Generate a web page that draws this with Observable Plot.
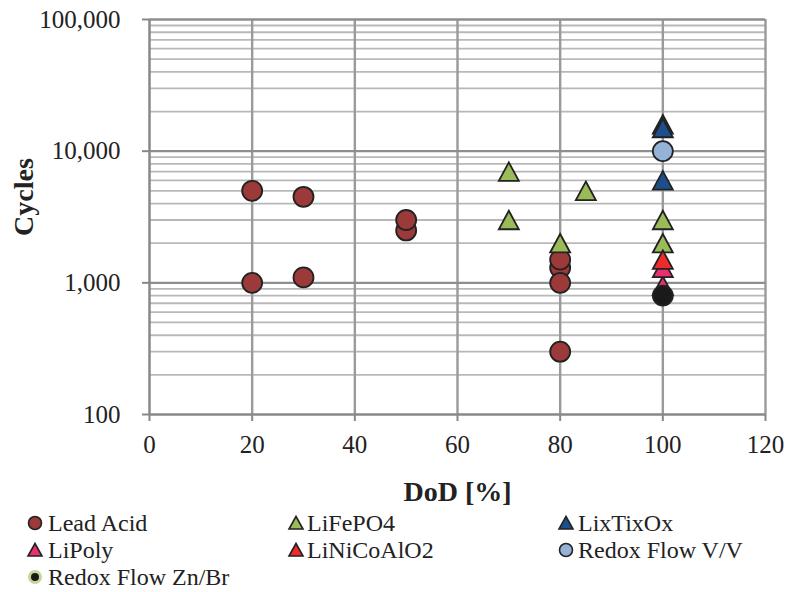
<!DOCTYPE html>
<html><head><meta charset="utf-8">
<script src="https://cdn.jsdelivr.net/npm/d3@7"></script>
<script src="https://cdn.jsdelivr.net/npm/@observablehq/plot@0.6"></script>
<style>
body{margin:0;background:#fff;}
#chart svg{display:block;}
</style>
</head><body><div id="chart"></div>
<script>
// ---- data ----
const seriesNames = ["Lead Acid","LiFePO4","LixTixOx","LiPoly","LiNiCoAlO2","Redox Flow V/V","Redox Flow Zn/Br"];
const leadAcidDoD    = [20, 20, 30, 30, 50, 50, 80, 80, 80, 80];
const leadAcidCycles = [5000, 1000, 4500, 1100, 2500, 3000, 1300, 1500, 1000, 300];
const liFePO4DoD     = [70, 70, 85, 80, 100, 100];
const liFePO4Cycles  = [7000, 3000, 5000, 2000, 3000, 2000];
const lixTixOxDoD    = [100, 100, 100];
const lixTixOxCycles = [16000, 15000, 6000];
const liPolyDoD      = [100, 100];
const liPolyCycles   = [950, 1300];
const liNiCoAlO2DoD    = [100];
const liNiCoAlO2Cycles = [1500];
const redoxVVDoD     = [100];
const redoxVVCycles  = [10000];
const redoxZnBrDoD   = [100];
const redoxZnBrCycles= [800];
const dodTicks   = [0, 20, 40, 60, 80, 100, 120];
const cycleTicks = [100, 1000, 10000, 100000];
const xLabel = "DoD [%]";
const yLabel = "Cycles";

// ---- styles ----
const seriesFill = ["#9c3a3a","#9bbb59","#1c4f8c","#e8306e","#f02a2a","#95b3d7","#1a1a1a"];
const seriesShape = ["circle","triangle","triangle","triangle","triangle","circle","circle"];

const seriesDoD = [leadAcidDoD, liFePO4DoD, lixTixOxDoD, liPolyDoD, liNiCoAlO2DoD, redoxVVDoD, redoxZnBrDoD];
const seriesCycles = [leadAcidCycles, liFePO4Cycles, lixTixOxCycles, liPolyCycles, liNiCoAlO2Cycles, redoxVVCycles, redoxZnBrCycles];

const triangleSymbol = {
  draw(context, size) {
    const r = Math.sqrt(size / Math.PI);
    const h = r * 1.85 / 2;
    context.moveTo(0, -h);
    context.lineTo(r, h);
    context.lineTo(-r, h);
    context.closePath();
  }
};

const minorTicks = [];
for (const d of cycleTicks.slice(0, -1)) for (let k = 2; k <= 9; k++) minorTicks.push(d * k);

const dotMarks = seriesNames.map((name, i) => {
  const rows = seriesDoD[i].map((x, j) => ({series: name, dod: x, cycles: seriesCycles[i][j]}));
  return Plot.dot(rows, {
    x: "dod", y: "cycles",
    r: 10,
    symbol: seriesShape[i] === "circle" ? "circle" : triangleSymbol,
    fill: seriesFill[i],
    stroke: "#222",
    strokeWidth: 1.8
  });
});

const fontFamily = "'Liberation Serif', 'Times New Roman', serif";

const chart = Plot.plot({
  width: 787,
  height: 510,
  marginLeft: 149,
  marginRight: 22,
  marginTop: 19,
  marginBottom: 96,
  style: {fontFamily, color: "#222", background: "#fff", overflow: "visible"},
  x: {domain: [0, 120]},
  y: {type: "log", domain: [100, 100000]},
  marks: [
    Plot.ruleY(minorTicks, {stroke: "#b8b8b8", strokeWidth: 1.8}),
    Plot.ruleX(dodTicks.slice(1), {stroke: "#9a9a9a", strokeWidth: 2.4}),
    Plot.ruleY(cycleTicks.slice(1), {stroke: "#8e8e8e", strokeWidth: 2.4}),
    Plot.ruleX([0], {stroke: "#888", strokeWidth: 2.5}),
    Plot.ruleY([100], {stroke: "#888", strokeWidth: 2.5}),
    Plot.axisX({ticks: dodTicks, tickSize: 7, tickPadding: 14, fontSize: 25, stroke: "#888", strokeWidth: 2, label: null}),
    Plot.axisY({ticks: cycleTicks, tickFormat: d3.format(","), tickSize: 7, tickPadding: 22, fontSize: 25, stroke: "#888", strokeWidth: 2, label: null}),
    ...dotMarks,
    Plot.text([xLabel], {frameAnchor: "bottom", dy: 78, textAnchor: "middle", lineAnchor: "middle", fontSize: 28, fontWeight: "bold", fill: "#222"}),
    Plot.text([yLabel], {frameAnchor: "left", dx: -125, dy: -20, rotate: -90, textAnchor: "middle", lineAnchor: "middle", fontSize: 28, fontWeight: "bold", fill: "#222"})
  ]
});
document.getElementById("chart").appendChild(chart);

// ---- legend ----
const legendCols = [35, 296, 566];
const legendTextX = [48, 307, 578];
const legendBaselines = [21, 48, 75];
const legend = d3.select("#chart").append("svg")
  .attr("width", 787).attr("height", 82)
  .style("font-family", fontFamily)
  .style("display", "block");
seriesNames.forEach((name, i) => {
  const col = i % 3, row = Math.floor(i / 3);
  const cx = legendCols[col], base = legendBaselines[row], cy = base - 8;
  if (seriesShape[i] === "circle") {
    if (i === 6) {
      legend.append("circle").attr("cx", cx).attr("cy", cy).attr("r", 5.5)
        .attr("fill", seriesFill[i]).attr("stroke", "#c3d69b").attr("stroke-width", 3);
    } else {
      legend.append("circle").attr("cx", cx).attr("cy", cy).attr("r", 6.5)
        .attr("fill", seriesFill[i]).attr("stroke", "#222").attr("stroke-width", 1.6);
    }
  } else {
    legend.append("path")
      .attr("d", `M${cx},${cy - 6.5}L${cx + 7},${cy + 6}L${cx - 7},${cy + 6}Z`)
      .attr("fill", seriesFill[i]).attr("stroke", "#222").attr("stroke-width", 1.6);
  }
  legend.append("text").attr("x", legendTextX[col]).attr("y", base)
    .attr("font-size", 24).attr("fill", "#222").text(name);
});
</script></body></html>
